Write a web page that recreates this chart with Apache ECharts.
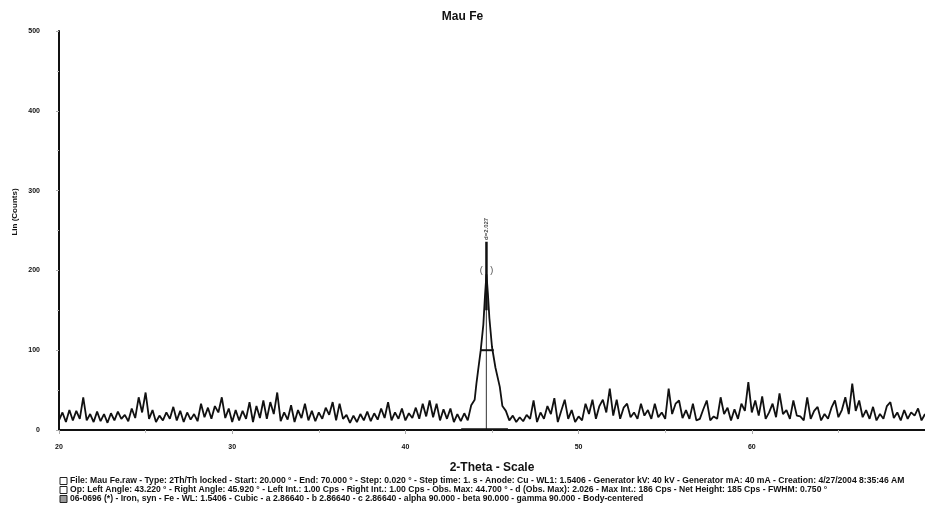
<!DOCTYPE html>
<html>
<head>
<meta charset="utf-8">
<script src="https://cdn.jsdelivr.net/npm/echarts@6/dist/echarts.min.js"></script>
<style>
html,body{margin:0;padding:0;background:#fff;}
#c{width:925px;height:510px;}
</style>
</head>
<body>
<div id="c"></div>
<script>
// ---- data ----
var titleText = 'Mau Fe';
var xName = '2-Theta - Scale';
var yName = 'Lin (Counts)';
var xTicks = [20, 30, 40, 50, 60, 70];
var yTicks = [0, 100, 200, 300, 400, 500];

// background counts, 20.0 .. 44.0 step 0.2
var startA = 20.0;
var countsA = [
 12,22,10,25,12,24,14,41,12,20,
 10,23,11,20,9,21,12,23,14,19,
 11,27,15,41,22,47,14,25,10,18,
 12,22,14,29,12,24,10,22,13,20,
 11,33,16,28,14,30,22,41,15,27,
 10,25,12,24,14,35,10,30,15,37,
 14,35,20,47,11,22,13,31,10,25,
 15,33,12,24,11,22,14,28,19,35,
 12,33,14,19,9,18,10,20,12,23,
 11,21,13,27,15,35,12,22,14,27,
 12,21,15,28,14,33,17,37,16,33,
 12,26,14,27,10,20,11,21,12,31,
 38
];
// the Fe (110) peak
var peakAngles = [44.1, 44.2, 44.35, 44.5, 44.6, 44.68, 44.76, 44.85, 45.0, 45.2, 45.45, 45.6];
var peakCounts = [58, 75, 100, 132, 170, 195, 172, 140, 104, 78, 54, 30];
// background counts, 45.8 .. 70.0 step 0.2
var startB = 45.8;
var countsB = [
 24,
 12,18,10,16,11,19,14,37,10,22,
 14,30,20,40,10,24,38,14,25,10,
 17,12,33,20,38,14,30,38,22,52,
 18,38,14,28,33,16,22,14,33,18,
 25,14,33,16,22,14,52,20,33,37,
 15,25,14,33,12,14,26,37,12,17,
 14,41,20,28,12,26,14,33,24,60,
 22,37,18,42,14,22,33,16,46,20,
 25,14,37,18,17,12,41,14,24,29,
 12,20,14,28,37,16,25,41,20,58,
 24,37,16,25,14,29,12,20,14,30,
 35,15,22,12,25,14,22,18,27,12,
 20
];
var step = 0.2;

// reference stick (06-0696 Iron), FWHM bar, peak base, label
var stickAngle = [44.673, 44.673];
var stickCounts = [0, 195];
var fwhmAngles = [44.35, 45.10];
var fwhmCounts = [100, 100];
var baseAngles = [43.22, 45.92];
var baseCounts = [1, 1];
var leaderAngles = [44.68, 44.68];
var leaderCounts = [150, 236];
var peakLabel = 'd=2.027';
var peakLabelAt = [44.68, 252];
var areaMark = '(   )';
var areaMarkAt = [44.68, 200];

var legendLines = [
 'File: Mau Fe.raw - Type: 2Th/Th locked - Start: 20.000 \u00b0 - End: 70.000 \u00b0 - Step: 0.020 \u00b0 - Step time: 1. s - Anode: Cu - WL1: 1.5406 - Generator kV: 40 kV - Generator mA: 40 mA - Creation: 4/27/2004 8:35:46 AM',
 'Op: Left Angle: 43.220 \u00b0 - Right Angle: 45.920 \u00b0 - Left Int.: 1.00 Cps - Right Int.: 1.00 Cps - Obs. Max: 44.700 \u00b0 - d (Obs. Max): 2.026 - Max Int.: 186 Cps - Net Height: 185 Cps - FWHM: 0.750 \u00b0',
 '06-0696 (*) - Iron, syn - Fe - WL: 1.5406 - Cubic - a 2.86640 - b 2.86640 - c 2.86640 - alpha 90.000 - beta 90.000 - gamma 90.000 - Body-centered'
];

// ---- build ----
function pairs(xs, ys){ var o=[]; for(var i=0;i<xs.length;i++) o.push([xs[i], ys[i]]); return o; }
var pattern = [];
countsA.forEach(function(v,i){ pattern.push([+(startA + i*step).toFixed(2), v]); });
peakAngles.forEach(function(a,i){ pattern.push([a, peakCounts[i]]); });
countsB.forEach(function(v,i){ pattern.push([+(startB + i*step).toFixed(2), v]); });

var FONT = '"Liberation Sans", Arial, sans-serif';
var chart = echarts.init(document.getElementById('c'), null, {renderer:'canvas'});

var graphics = [
 {type:'text', x:15, y:212, rotation:Math.PI/2,
  style:{text:yName, font:'bold 8px '+FONT, fill:'#111', textAlign:'center', textVerticalAlign:'middle'}}
];
var ly = [481, 490, 499];
legendLines.forEach(function(t,i){
  graphics.push({type:'rect', shape:{x:60, y:ly[i]-3.5, width:7, height:7},
     style:{fill: i===2 ? '#9a9a9a' : '#fff', stroke:'#222', lineWidth:1}});
  graphics.push({type:'text', x:70, y:ly[i],
     style:{text:t, font:'bold 8.6px '+FONT, fill:'#111', textVerticalAlign:'middle'}});
});

chart.setOption({
  animation:false,
  backgroundColor:'#fff',
  title:{text:titleText, left:'center', top:6, textStyle:{fontFamily:FONT, fontSize:12, fontWeight:'bold', color:'#111'}},
  grid:{left:59, top:31, width:867, height:399},
  xAxis:{type:'value', min:xTicks[0], max:xTicks[xTicks.length-1], interval:10,
    name:xName, nameLocation:'middle', nameGap:32,
    nameTextStyle:{fontFamily:FONT, fontSize:12, fontWeight:'bold', color:'#111'},
    axisLine:{show:true, lineStyle:{color:'#111', width:2}},
    axisTick:{show:true, length:4, lineStyle:{color:'#aaa'}},
    minorTick:{show:true, splitNumber:2, length:3, lineStyle:{color:'#bbb'}},
    splitLine:{show:false},
    axisLabel:{showMaxLabel:false, fontFamily:FONT, fontSize:7, fontWeight:'bold', color:'#111', margin:14}},
  yAxis:{type:'value', min:yTicks[0], max:yTicks[yTicks.length-1], interval:100,
    axisLine:{show:true, lineStyle:{color:'#111', width:2}},
    axisTick:{show:true, length:3, lineStyle:{color:'#aaa'}},
    minorTick:{show:true, splitNumber:2, length:2, lineStyle:{color:'#bbb'}},
    splitLine:{show:false},
    axisLabel:{fontFamily:FONT, fontSize:7, fontWeight:'bold', color:'#111', margin:19}},
  series:[
    {type:'line', data:pattern, symbol:'none', lineStyle:{color:'#111', width:1.8}, z:3},
    {type:'line', data:pairs(stickAngle, stickCounts), symbol:'none', lineStyle:{color:'#333', width:1}, z:4},
    {type:'line', data:pairs(fwhmAngles, fwhmCounts), symbol:'none', lineStyle:{color:'#111', width:2}, z:4},
    {type:'line', data:pairs(baseAngles, baseCounts), symbol:'none', lineStyle:{color:'#111', width:2}, z:4},
    {type:'line', data:pairs(leaderAngles, leaderCounts), symbol:'none', lineStyle:{color:'#111', width:2.5}, z:4},
    {type:'scatter', symbolSize:0, z:5,
      data:[{value:peakLabelAt, label:{show:true, formatter:peakLabel, rotate:90, position:'inside', fontFamily:FONT, fontSize:6, fontWeight:'bold', color:'#111'}},
            {value:areaMarkAt, label:{show:true, formatter:areaMark, position:'inside', fontFamily:FONT, fontSize:9, color:'#111'}}]}
  ],
  graphic:graphics
});
</script>
</body>
</html>
